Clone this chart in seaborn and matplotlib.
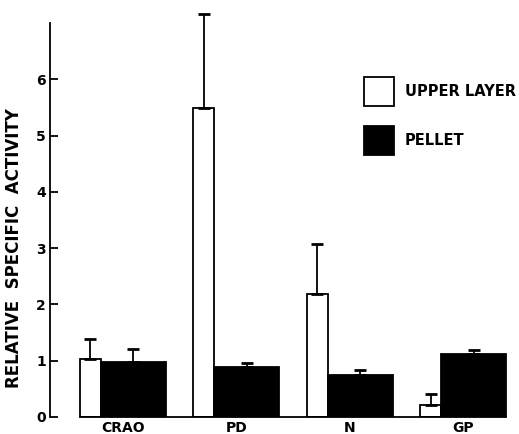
import numpy as np
import pandas as pd
import matplotlib
matplotlib.use("Agg")
import matplotlib.pyplot as plt
import seaborn as sns
from matplotlib.patches import Patch

sns.set_style("ticks")
plt.rcParams['font.family'] = ['DejaVu Sans']
plt.rcParams['font.weight'] = 'bold'
plt.rcParams['text.color'] = 'black'
plt.rcParams['axes.labelcolor'] = 'black'
plt.rcParams['xtick.color'] = 'black'
plt.rcParams['ytick.color'] = 'black'
plt.rcParams['axes.edgecolor'] = 'black'

# Datos
groups = ["CRAO", "PD", "N", "GP"]
upper = [1.03, 5.49, 2.18, 0.21]
upper_err = [0.36, 1.67, 0.89, 0.19]
pellet = [0.97, 0.89, 0.75, 1.12]
pellet_err = [0.24, 0.07, 0.08, 0.07]

# Anchos de barra (relativos a la distancia entre grupos)
w_up = 0.185
w_pel = 0.573

idx = np.arange(len(groups))
pos_up = idx + w_up / 2
pos_pel = idx + w_up + w_pel / 2

df_up = pd.DataFrame({"pos": pos_up, "val": upper})
df_pel = pd.DataFrame({"pos": pos_pel, "val": pellet})

fig = plt.figure(figsize=(5.19, 4.34), dpi=100)
ax = fig.add_axes([50 / 519, 17 / 434, 461 / 519, 408 / 434])

sns.barplot(data=df_up, x="pos", y="val", native_scale=True, width=w_up,
            color="white", edgecolor="black", linewidth=1.3, saturation=1,
            errorbar=None, ax=ax)
sns.barplot(data=df_pel, x="pos", y="val", native_scale=True, width=w_pel,
            color="black", edgecolor="black", linewidth=1.3, saturation=1,
            errorbar=None, ax=ax)

# Barras de error (solo hacia arriba)
ax.errorbar(pos_up, upper, yerr=[np.zeros(4), upper_err], fmt="none",
            ecolor="black", elinewidth=1.3, capsize=4, capthick=2)
ax.errorbar(pos_pel, pellet, yerr=[np.zeros(4), pellet_err], fmt="none",
            ecolor="black", elinewidth=1.3, capsize=4, capthick=2)

ax.set_xlim(-0.264, 3.80)
ax.set_ylim(0, 7.25)
ax.set_yticks(range(0, 7))
ax.set_yticklabels([str(i) for i in range(0, 7)], fontsize=10, fontweight="bold")
ax.set_xticks(idx + (w_up + w_pel) / 2)
ax.set_xticklabels(groups, fontsize=10, fontweight="bold")
ax.tick_params(axis="y", direction="in", length=6, width=1.3, pad=3)
ax.tick_params(axis="x", length=0, pad=3)

sns.despine(ax=ax)
ax.spines["left"].set_bounds(0, 7)
ax.spines["left"].set_linewidth(1.3)
ax.spines["bottom"].set_bounds(0, 3 + w_up + w_pel)
ax.spines["bottom"].set_linewidth(1.3)

ax.set_xlabel("")
ax.set_ylabel("RELATIVE  SPECIFIC  ACTIVITY", fontsize=12, fontweight="bold")
ax.yaxis.set_label_coords(-0.058, 0.415)

handles = [Patch(facecolor="white", edgecolor="black", linewidth=1.3, label="UPPER LAYER"),
           Patch(facecolor="black", edgecolor="black", linewidth=1.3, label="PELLET")]
leg = ax.legend(handles=handles, loc="upper left", bbox_to_anchor=(0.652, 0.865),
                frameon=False, prop={"size": 10.5, "weight": "bold"},
                handlelength=2.1, handleheight=2.7, labelspacing=1.35, handletextpad=0.7)

plt.savefig("out.png", dpi=100)
